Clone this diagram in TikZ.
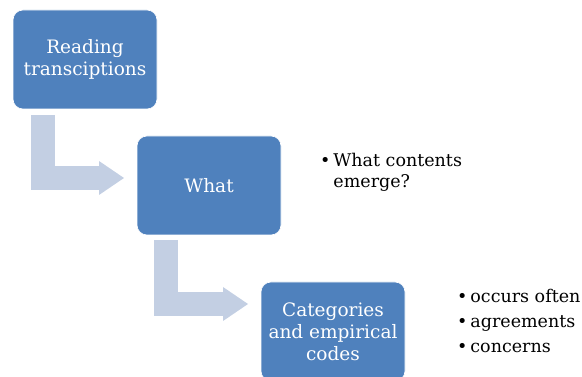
\documentclass[tikz,border=0pt]{standalone}
\usepackage{fontspec}
\setmainfont{DejaVu Serif}
\usetikzlibrary{arrows.meta}
\definecolor{stepblue}{HTML}{4F81BD}
\definecolor{elbowblue}{HTML}{C3CFE3}

\begin{document}
\begin{tikzpicture}[
x=1pt, y=-1pt,
box/.style={
	rectangle, rounded corners=10pt, draw=white, line width=0.6pt,
	fill=stepblue, minimum width=144pt, minimum height=99pt,
	inner sep=2pt, text=white, align=center,
	font=\fontsize{18.5}{22}\selectfont
},
elbow/.style={
	draw=elbowblue, line width=24pt, line join=miter,
	-{Triangle[length=25pt,width=34pt,line width=0pt]}
},
note/.style={anchor=base west, inner sep=0pt, font=\fontsize{17.5}{21}\selectfont}
]
\useasboundingbox (0,0) rectangle (582,377);
% the three steps
\node[box] (read) at (85,59.5) {Reading\\transciptions};
\node[box] (what) at (209,185.5) {What};
\node[box] (cat) at (333,331.5) {Categories\\and empirical\\codes};
% elbow arrows between the steps
\coordinate (readout) at (42.5,115);
\coordinate (whatin) at (124,178);
\coordinate (whatout) at (166,240);
\coordinate (catin) at (248,304);
\draw[elbow] (readout) |- (whatin);
\draw[elbow] (whatout) |- (catin);
% side notes
\node[note] (emerge) at (320,166.7) {\begin{tabular}[t]{@{}l@{\,}l@{}}
	\textbullet & What contents\\
	& emerge?
\end{tabular}};
\node[note] (codes) at (457,302) {\begin{tabular}[t]{@{}l@{\,}l@{}}
	\textbullet & occurs often\\[4.5pt]
	\textbullet & agreements\\[4.5pt]
	\textbullet & concerns
\end{tabular}};
\end{tikzpicture}
\end{document}
